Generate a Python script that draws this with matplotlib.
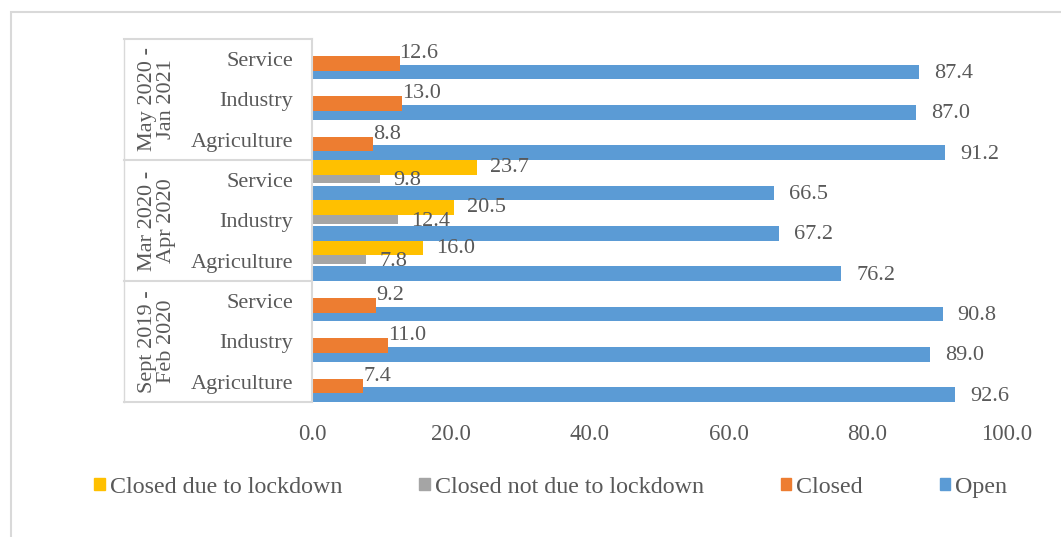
import numpy as np
import matplotlib.pyplot as plt
from matplotlib.patches import Patch, Rectangle

# bottom-to-top order: each period holds Agriculture, Industry, Service
periods = ["Sept 2019 -\nFeb 2020", "Mar 2020 -\nApr 2020", "May 2020 -\nJan 2021"]
sectors = ["Agriculture", "Industry", "Service"]
open_pct = [92.6, 89.0, 90.8, 76.2, 67.2, 66.5, 91.2, 87.0, 87.4]
closed_pct = [7.4, 11.0, 9.2, 0, 0, 0, 8.8, 13.0, 12.6]
closed_lock_pct = [0, 0, 0, 16.0, 20.5, 23.7, 0, 0, 0]
closed_other_pct = [0, 0, 0, 7.8, 12.4, 9.8, 0, 0, 0]
xticks = [0, 20, 40, 60, 80, 100]

plt.rcParams['font.family'] = ['Liberation Serif', 'DejaVu Serif']
txt = '#595959'
fs = 16
line_c = '#d9d9d9'

fig = plt.figure(figsize=(10.61, 5.37), dpi=100)
ax = fig.add_axes([0.2941, 0.2514, 0.6545, 0.676])

y = np.arange(len(open_pct))
step = 0.211
h = 0.365

# series: (values, colour, y offset, label offset in pixels, legend name)
series = [
    (open_pct, '#5B9BD5', -1.5 * step, (15, -1.5), 'Open'),
    (closed_pct, '#ED7D31', -0.5 * step, (0, 10), 'Closed'),
    (closed_other_pct, '#A5A5A5', 0.5 * step, (13, -5), 'Closed not due to lockdown'),
    (closed_lock_pct, '#FFC000', 1.5 * step, (13, 0), 'Closed due to lockdown'),
]

for vals, col, off, (dx, dy), name in series:
    ax.barh(y + off, vals, height=h, color=col, linewidth=0)
    for yi, v in zip(y + off, vals):
        if v > 0:
            ax.annotate(f"{v:.1f}", (v, yi), xytext=(dx, dy),
                        textcoords='offset pixels', ha='left', va='center',
                        fontsize=fs, color=txt)

ax.set_xlim(0, 100)
ax.set_ylim(-0.5, len(y) - 0.5)
ax.set_xticks(xticks)
ax.set_xticklabels([f"{t:.1f}" for t in xticks], fontsize=16.5, color=txt)
ax.set_yticks(y)
ax.set_yticklabels(sectors * len(periods), fontsize=fs, color=txt)
ax.tick_params(axis='both', length=0)
ax.tick_params(axis='y', pad=13.5)
ax.tick_params(axis='x', pad=15.5)
for s in ['top', 'right', 'bottom']:
    ax.spines[s].set_visible(False)
ax.spines['left'].set_color(line_c)
ax.spines['left'].set_linewidth(1.5)

# two-level category axis: period labels and separators
tr = ax.get_yaxis_transform()
x_left = -0.2707
for i, p in enumerate(periods):
    yc = 3 * i + 1
    ax.text(-0.2232, yc, p, transform=tr, rotation=90, ha='center',
            va='center', fontsize=fs, color=txt, linespacing=0.95,
            multialignment='center')
for b in np.arange(-0.5, len(y), 3):
    ax.plot([x_left, 0], [b, b], transform=tr, color=line_c, lw=1.5,
            clip_on=False)
ax.plot([x_left, x_left], [-0.5, len(y) - 0.5], transform=tr, color=line_c,
        lw=1.0, clip_on=False)

handles = [Patch(color=c, label=n) for _, c, _, _, n in series[::-1]]
fig.legend(handles=handles, loc='center', bbox_to_anchor=(0.519, 0.093),
           ncol=4, frameon=False, fontsize=17.3, labelcolor=txt,
           handlelength=0.45, handleheight=0.45, handletextpad=0.2,
           columnspacing=3.2)

fig.patches.append(Rectangle((0.0104, -0.1), 1.1, 1.0777, transform=fig.transFigure,
                             fill=False, edgecolor=line_c, lw=1.5))

fig.savefig('out.png', dpi=100)
